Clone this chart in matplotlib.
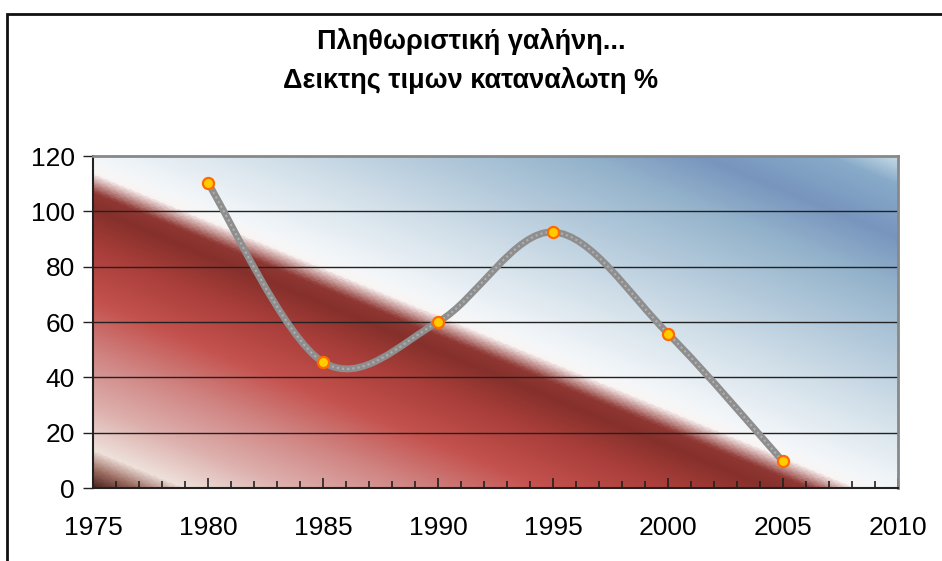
import numpy as np
import matplotlib
matplotlib.use("Agg")
import matplotlib.pyplot as plt
from matplotlib.colors import LinearSegmentedColormap, to_rgb
from matplotlib.path import Path
from matplotlib.patches import PathPatch, Rectangle

plt.rcParams['font.family'] = ['Liberation Sans', 'DejaVu Sans']

# Δεδομένα
years = [1980, 1985, 1990, 1995, 2000, 2005]
cpi = [110.2, 45.5, 60.0, 92.5, 55.8, 9.6]

title_text = "Πληθωριστική γαλήνη...\nΔεικτης τιμων καταναλωτη %"
xticks = [1975, 1980, 1985, 1990, 1995, 2000, 2005, 2010]
yticks = [0, 20, 40, 60, 80, 100, 120]

# Χρώματα φόντου (διαγώνιο gradient)
stops = [
    (0.00, '#4e2820'),
    (0.025, '#9a6a60'),
    (0.055, '#eee0da'),
    (0.12, '#ddb0ad'),
    (0.20, '#d08583'),
    (0.28, '#c4524e'),
    (0.36, '#a93e3a'),
    (0.42, '#86302b'),
    (0.445, '#8f3733'),
    (0.475, '#faf6f5'),
    (0.50, '#f2f6f9'),
    (0.60, '#d4e1ea'),
    (0.70, '#b4cadb'),
    (0.80, '#94b3cb'),
    (0.88, '#7895be'),
    (0.96, '#88abc9'),
    (1.00, '#c4d8e6'),
]
cmap = LinearSegmentedColormap.from_list('bg', [(p, to_rgb(c)) for p, c in stops])

fig = plt.figure(figsize=(9.42, 5.61), dpi=100)
ax = fig.add_axes([93 / 942, 1 - 488 / 561, 805 / 942, 332 / 561])

xmin, xmax, ymin, ymax = 1975, 2010, 0, 120
u = np.linspace(0, 1, 400)
v = np.linspace(0, 1, 300)
U, V = np.meshgrid(u, v)
T = (U + V) / 2
ax.imshow(T, cmap=cmap, origin='lower', extent=[xmin, xmax, ymin, ymax],
          aspect='auto', interpolation='bilinear', zorder=0)

ax.set_xlim(xmin, xmax)
ax.set_ylim(ymin, ymax)

for yv in yticks[1:-1]:
    ax.axhline(yv, color='#222222', lw=1.0, zorder=1)

# ομαλή γραμμή (Bezier όπως στο Excel)
pts = np.column_stack([years, cpi]).astype(float)
n = len(pts)
verts = [pts[0]]
codes = [Path.MOVETO]
for i in range(n - 1):
    p0 = pts[i - 1] if i > 0 else pts[i]
    p1 = pts[i]
    p2 = pts[i + 1]
    p3 = pts[i + 2] if i + 2 < n else pts[i + 1]
    c1 = p1 + (p2 - p0) / 6
    c2 = p2 - (p3 - p1) / 6
    verts += [c1, c2, p2]
    codes += [Path.CURVE4] * 3
path = Path(verts, codes)
ax.add_patch(PathPatch(path, fill=False, edgecolor='#8e8e8e', lw=5, zorder=3,
                       capstyle='round', joinstyle='round'))
ax.add_patch(PathPatch(path, fill=False, edgecolor='#b0b0b0', lw=1.5, zorder=3,
                       linestyle=(0, (1, 1.5))))

ax.plot(years, cpi, linestyle='none', marker='o', markersize=8,
        markerfacecolor='#ffcc00', markeredgecolor='#ff6a00', markeredgewidth=1.6,
        zorder=4)

ax.set_xticks(xticks)
ax.set_xticks(np.arange(1975, 2011, 1), minor=True)
ax.set_yticks(yticks)
ax.tick_params(axis='x', which='major', direction='in', length=7, width=1.2,
               labelsize=19, pad=20, color='#222222')
ax.tick_params(axis='x', which='minor', direction='in', length=5, width=1.2,
               color='#222222')
ax.tick_params(axis='y', which='major', direction='out', length=7, width=1,
               labelsize=19, pad=6, color='#222222')

for side in ['left', 'bottom']:
    ax.spines[side].set_color('#222222')
    ax.spines[side].set_linewidth(1.5)
for side in ['right', 'top']:
    ax.spines[side].set_color('#888888')
    ax.spines[side].set_linewidth(2)

fig.text(0.5, 1 - 61 / 561, title_text, ha='center', va='center',
         fontsize=19.5, fontweight='bold', linespacing=1.55)

# πλαίσιο γραφήματος
fig.patches.append(Rectangle((7 / 942, -0.1), 2, 1.1 - 13.5 / 561,
                             transform=fig.transFigure, fill=False,
                             edgecolor='#111111', lw=2, zorder=10))

fig.savefig('out.png', dpi=100)
